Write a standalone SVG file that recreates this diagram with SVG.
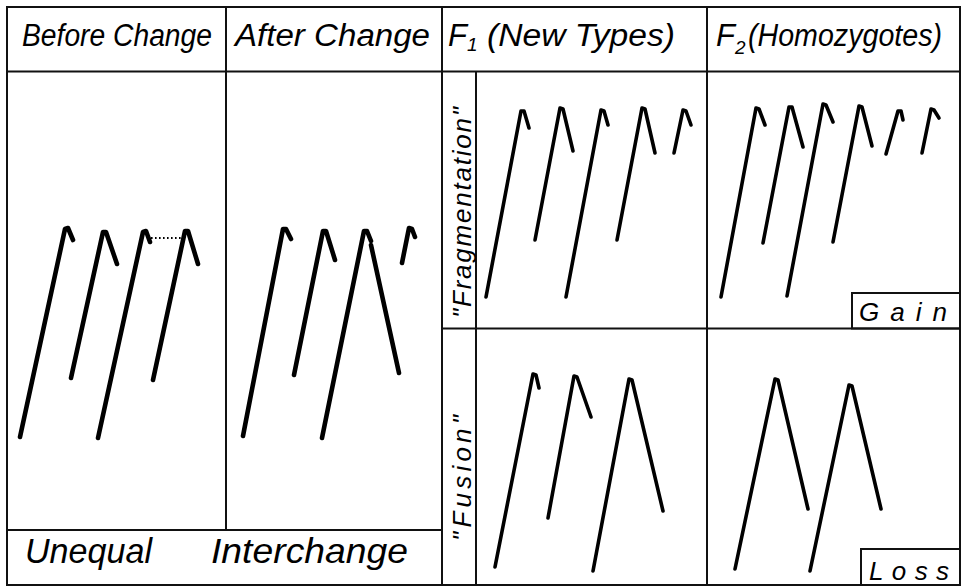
<svg xmlns="http://www.w3.org/2000/svg" width="966" height="586" viewBox="0 0 966 586">
  <style>
    .frame { fill: none; stroke: #111; stroke-width: 2; }
    .rule { stroke: #111; stroke-width: 2; fill: none; }
    .chrA { fill: none; stroke: #000; stroke-width: 4.6; stroke-linecap: round; stroke-linejoin: round; }
    .chrB { fill: none; stroke: #000; stroke-width: 3.6; stroke-linecap: round; stroke-linejoin: round; }
    .dots { fill: none; stroke: #000; stroke-width: 1.8; stroke-dasharray: 1.6 2.4; }
    .head { font-family: "Liberation Sans", Arial, sans-serif; font-style: italic; font-size: 31px; fill: #000; }
    .sub { font-size: 19px; }
    .side { font-family: "Liberation Sans", Arial, sans-serif; font-style: italic; font-size: 26px; fill: #000; }
    .tag { font-family: "Liberation Sans", Arial, sans-serif; font-style: italic; font-size: 26px; fill: #000; }
    .foot { font-family: "Liberation Sans", Arial, sans-serif; font-style: italic; font-size: 35px; fill: #000; }
  </style>
  <rect width="966" height="586" fill="#fff"/>

  <!-- table grid -->
  <g id="grid">
    <rect class="frame" x="7" y="7" width="953" height="578"/>
    <line class="rule" x1="7" y1="71.5" x2="960" y2="71.5"/>
    <line class="rule" x1="226" y1="7" x2="226" y2="530"/>
    <line class="rule" x1="442" y1="7" x2="442" y2="585"/>
    <line class="rule" x1="707" y1="7" x2="707" y2="585"/>
    <line class="rule" x1="476" y1="71.5" x2="476" y2="585"/>
    <line class="rule" x1="442" y1="328.5" x2="960" y2="328.5"/>
    <line class="rule" x1="7" y1="530" x2="442" y2="530"/>
    <rect class="frame" x="852" y="293" width="108" height="35.5"/>
    <rect class="frame" x="861" y="549" width="99" height="36"/>
  </g>

  <!-- column headings -->
  <g id="headings">
    <text class="head" x="22" y="46" textLength="190" lengthAdjust="spacingAndGlyphs">Before Change</text>
    <text class="head" x="235" y="46" textLength="195" lengthAdjust="spacingAndGlyphs">After Change</text>
    <text class="head" x="448" y="46">F<tspan class="sub" dy="5">1</tspan></text>
    <text class="head" x="487" y="46" textLength="188" lengthAdjust="spacingAndGlyphs">(New Types)</text>
    <text class="head" x="716" y="46">F<tspan class="sub" dy="8">2</tspan></text>
    <text class="head" x="748" y="46" textLength="194" lengthAdjust="spacingAndGlyphs">(Homozygotes)</text>
  </g>

  <!-- row labels -->
  <g id="row-labels">
    <text class="side" transform="translate(471,318) rotate(-90)" textLength="211" lengthAdjust="spacing">"Fragmentation"</text>
    <text class="side" transform="translate(471,541) rotate(-90)" textLength="126" lengthAdjust="spacing">"Fusion"</text>
  </g>

  <!-- before change -->
  <g id="before">
    <path class="chrA" d="M20,437 L65,229 L68,228 L73,240"/>
    <path class="chrA" d="M71,378 L103,232 L106,232 L117,264"/>
    <path class="chrA" d="M98,438 L143,232 L146,231 L150,242"/>
    <path class="chrA" d="M153,380 L185,231 L188,231 L198,264"/>
  </g>

  <!-- after change -->
  <g id="after">
    <path class="chrA" d="M243,436 L283,229 L286,229 L291,239"/>
    <path class="chrA" d="M294,375 L323,231 L326,231 L335,260"/>
    <path class="chrA" d="M322,438 L364,231 L367,231 L371,241"/>
    <path class="chrA" d="M371,245 L399,373"/>
    <path class="chrA" d="M402,263 L409,228 L412,229 L415,237"/>
  </g>

  <!-- F1 fragmentation -->
  <g id="f1-fragmentation">
    <path class="chrB" d="M486,297 L521,111 L524,111 L529,128"/>
    <path class="chrB" d="M535,240 L560,108 L563,109 L573,151"/>
    <path class="chrB" d="M566,297 L601,110 L604,111 L608,125"/>
    <path class="chrB" d="M617,240 L642,108 L645,109 L655,153"/>
    <path class="chrB" d="M674,153 L683,110 L686,111 L691,125"/>
  </g>

  <!-- F2 gain -->
  <g id="f2-gain">
    <path class="chrB" d="M721,297 L756,108 L759,109 L765,125"/>
    <path class="chrB" d="M763,243 L789,107 L792,107 L803,147"/>
    <path class="chrB" d="M787,296 L823,104 L826,105 L833,122"/>
    <path class="chrB" d="M833,242 L859,106 L862,107 L872,146"/>
    <path class="chrB" d="M886,154 L898,111 L901,111 L903,120"/>
    <path class="chrB" d="M922,153 L931,109 L934,110 L939,118"/>
    <text class="tag" x="859" y="321" textLength="88" lengthAdjust="spacing">Gain</text>
  </g>

  <!-- F1 fusion -->
  <g id="f1-fusion">
    <path class="chrB" d="M495,567 L533,374 L536,375 L539,388"/>
    <path class="chrB" d="M548,518 L574,376 L577,377 L591,417"/>
    <path class="chrB" d="M593,571 L629,379 L632,380 L663,511"/>
  </g>

  <!-- F2 loss -->
  <g id="f2-loss">
    <path class="chrB" d="M735,569 L775,379 L778,380 L808,509"/>
    <path class="chrB" d="M810,571 L849,385 L852,386 L881,509"/>
    <text class="tag" x="869" y="580" textLength="80" lengthAdjust="spacing">Loss</text>
  </g>

  <!-- unequal interchange link between the arms -->
  <g id="connectors">
    <path class="dots" d="M151,238 L184,238"/>
  </g>

  <!-- caption box -->
  <g id="caption">
    <text class="foot" x="25" y="563" textLength="127" lengthAdjust="spacingAndGlyphs">Unequal</text>
    <text class="foot" x="211" y="563" textLength="197" lengthAdjust="spacingAndGlyphs">Interchange</text>
  </g>
</svg>
